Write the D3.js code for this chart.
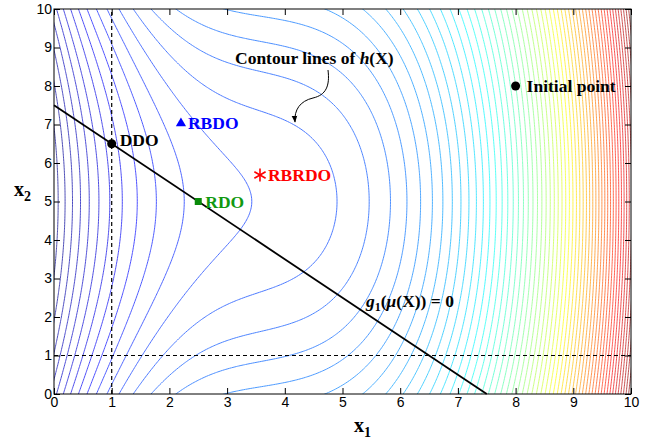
<!DOCTYPE html>
<html lang="en">
<head>
<meta charset="UTF-8">
<title>Contour lines of h(X)</title>
<script src="https://d3js.org/d3.v7.min.js"></script>
<style>
  body { margin: 0; background: #fff; }
  svg text { font-family: "Liberation Serif", "Times New Roman", serif; }
  .tick text { font-family: "Liberation Sans", Arial, sans-serif; font-size: 14px; fill: #000; }
  .lbl { font-weight: bold; font-size: 17.5px; }
</style>
</head>
<body>
<svg id="chart" width="656" height="439"></svg>
<script>
// axis ticks
const xTicks = [0, 1, 2, 3, 4, 5, 6, 7, 8, 9, 10];
const yTicks = [0, 1, 2, 3, 4, 5, 6, 7, 8, 9, 10];

// design points [x1, x2]
const ddo = [1.0, 6.5];
const rbdo = [2.2, 7.03];
const rbrdo = [3.57, 5.69];
const rdo = [2.5, 5.0];
const initialPoint = [8.0, 8.0];

// g1(mu(X)) = 0  ->  x1 + x2 = 7.5
const constraintLine = [[0, 7.5], [7.5, 0]];
const boundX1 = 1;
const boundX2 = 1;

// shape of h(X)
const hCenterX1 = 3.6, hCenterX2 = 5.0;
const hSlope = 0.4;
const hCurvLeft = 0.66, hCurvRight = 0.55;
const hSpread = 0.17;
const levelStart = -11.07, levelStep = 1, levelCount = 67;

function h(x1, x2) {
  const d = x1 - hCenterX1;
  const k = d < 0 ? hCurvLeft : hCurvRight;
  return hSlope * d + k / 3 * d * d * d + hSpread * (x2 - hCenterX2) * (x2 - hCenterX2);
}

const svg = d3.select("#chart");
const x = d3.scaleLinear().domain([0, 10]).range([54, 631]);
const y = d3.scaleLinear().domain([0, 10]).range([394, 9]);

svg.append("defs").append("clipPath").attr("id", "plot")
  .append("rect")
  .attr("x", x(0)).attr("y", y(10))
  .attr("width", x(10) - x(0)).attr("height", y(0) - y(10));

svg.select("defs").append("marker")
  .attr("id", "arrow").attr("viewBox", "0 0 10 10")
  .attr("refX", 9).attr("refY", 5)
  .attr("markerWidth", 7).attr("markerHeight", 7)
  .attr("orient", "auto")
  .append("path").attr("d", "M0,1 L10,5 L0,9 Z").attr("fill", "#000");

// contour field
const step = 0.04, gMin = -0.2;
const n = Math.round(10.4 / step) + 1;
const values = new Float64Array(n * n);
for (let j = 0; j < n; j++) {
  for (let i = 0; i < n; i++) {
    values[j * n + i] = h(gMin + i * step, gMin + j * step);
  }
}
const levels = d3.range(levelCount).map(k => levelStart + k * levelStep);
const contours = d3.contours().size([n, n]).thresholds(levels)(values);

const toPx = d3.geoTransform({
  point(px, py) {
    this.stream.point(x(gMin + (px - 0.5) * step), y(gMin + (py - 0.5) * step));
  }
});
const path = d3.geoPath(toPx);

function jet(t) {
  const c = v => Math.max(0, Math.min(1, v));
  return d3.rgb(255 * c(1.5 - Math.abs(4 * t - 3)),
                255 * c(1.5 - Math.abs(4 * t - 2)),
                255 * c(1.5 - Math.abs(4 * t - 1)));
}
const hMin = h(0, hCenterX2), hMax = h(10, 0);
const color = v => d3.interpolateRgb(jet((v - hMin) / (hMax - hMin)), "#fff")(0.3);

svg.append("g").attr("clip-path", "url(#plot)")
  .selectAll("path")
  .data(contours)
  .join("path")
  .attr("d", path)
  .attr("fill", "none")
  .attr("stroke", d => color(d.value))
  .attr("stroke-width", 1);

// dashed bounds
const over = svg.append("g");
over.append("line")
  .attr("x1", x(boundX1)).attr("x2", x(boundX1))
  .attr("y1", y(0)).attr("y2", y(10))
  .attr("stroke", "#000").attr("stroke-width", 1.2).attr("stroke-dasharray", "4,3");
over.append("line")
  .attr("x1", x(0)).attr("x2", x(10))
  .attr("y1", y(boundX2)).attr("y2", y(boundX2))
  .attr("stroke", "#000").attr("stroke-width", 1.2).attr("stroke-dasharray", "4,3");

// constraint
over.append("path")
  .attr("d", d3.line().x(d => x(d[0])).y(d => y(d[1]))(constraintLine))
  .attr("fill", "none").attr("stroke", "#000").attr("stroke-width", 1.8);

// axes
svg.append("g").attr("transform", `translate(0,${y(0)})`)
  .call(d3.axisBottom(x).tickValues(xTicks).tickSize(-6).tickSizeOuter(0).tickPadding(3));
svg.append("g").attr("transform", `translate(${x(0)},0)`)
  .call(d3.axisLeft(y).tickValues(yTicks).tickSize(-6).tickSizeOuter(0).tickPadding(2));
svg.append("g").attr("transform", `translate(0,${y(10)})`)
  .call(d3.axisTop(x).tickValues(xTicks).tickSize(-6).tickSizeOuter(0).tickFormat(""));
svg.append("g").attr("transform", `translate(${x(10)},0)`)
  .call(d3.axisRight(y).tickValues(yTicks).tickSize(-6).tickSizeOuter(0).tickFormat(""));
svg.selectAll(".domain").remove();
svg.selectAll(".tick line").attr("stroke", "#000");
svg.append("rect")
  .attr("x", x(0)).attr("y", y(10))
  .attr("width", x(10) - x(0)).attr("height", y(0) - y(10))
  .attr("fill", "none").attr("stroke", "#000").attr("stroke-width", 1);

// axis titles
const xt = svg.append("text").attr("x", 354).attr("y", 432).attr("font-weight", "bold").attr("font-size", 20);
xt.append("tspan").text("x");
xt.append("tspan").attr("dy", 5).attr("font-size", 14).text("1");
const yt = svg.append("text").attr("x", 14).attr("y", 196).attr("font-weight", "bold").attr("font-size", 20);
yt.append("tspan").text("x");
yt.append("tspan").attr("dy", 5).attr("font-size", 14).text("2");

// markers
const marks = svg.append("g");
marks.append("circle").attr("cx", x(ddo[0])).attr("cy", y(ddo[1])).attr("r", 4.5).attr("fill", "#000");
marks.append("circle").attr("cx", x(initialPoint[0])).attr("cy", y(initialPoint[1])).attr("r", 4.5).attr("fill", "#000");
marks.append("path")
  .attr("transform", `translate(${x(rbdo[0])},${y(rbdo[1])})`)
  .attr("d", d3.symbol(d3.symbolTriangle, 45)())
  .attr("fill", "#0000ff");
marks.append("rect")
  .attr("x", x(rdo[0]) - 3.5).attr("y", y(rdo[1]) - 3.5)
  .attr("width", 7).attr("height", 7).attr("fill", "#0a8a0a");
const star = marks.append("g").attr("transform", `translate(${x(rbrdo[0])},${y(rbrdo[1])})`);
[0, 60, 120].forEach(a => {
  star.append("line")
    .attr("x1", 0).attr("y1", -6.5).attr("x2", 0).attr("y2", 6.5)
    .attr("transform", `rotate(${a})`)
    .attr("stroke", "#ff0000").attr("stroke-width", 1.6);
});

// labels
svg.append("text").attr("class", "lbl").attr("x", x(ddo[0]) + 8).attr("y", y(ddo[1]) + 2).attr("fill", "#000").text("DDO");
svg.append("text").attr("class", "lbl").attr("x", x(rbdo[0]) + 7).attr("y", y(rbdo[1]) + 6).attr("fill", "#0000ff").text("RBDO");
svg.append("text").attr("class", "lbl").attr("x", x(rbrdo[0]) + 8).attr("y", y(rbrdo[1]) + 6).attr("fill", "#ff0000").text("RBRDO");
svg.append("text").attr("class", "lbl").attr("x", x(rdo[0]) + 7).attr("y", y(rdo[1]) + 6).attr("fill", "#119911").text("RDO");
svg.append("text").attr("class", "lbl").attr("x", x(initialPoint[0]) + 11).attr("y", y(initialPoint[1]) + 6).attr("fill", "#000").text("Initial point");

const cl = svg.append("text").attr("class", "lbl").attr("x", 235).attr("y", 64);
cl.append("tspan").text("Contour lines of ");
cl.append("tspan").attr("font-style", "italic").text("h");
cl.append("tspan").text("(X)");

svg.append("path")
  .attr("d", "M328,70 C330,86 326,95 313,98 C300,101 294,110 295,122")
  .attr("fill", "none").attr("stroke", "#000").attr("stroke-width", 1)
  .attr("marker-end", "url(#arrow)");

const gl = svg.append("text").attr("x", 366).attr("y", 307).attr("font-size", 17.5).attr("font-weight", "bold");
gl.append("tspan").attr("font-style", "italic").text("g");
gl.append("tspan").attr("dy", 4).attr("font-size", 12).text("1");
gl.append("tspan").attr("dy", -4).text("(");
gl.append("tspan").attr("font-style", "italic").text("μ");
gl.append("tspan").text("(X)) = 0");
</script>
</body>
</html>
